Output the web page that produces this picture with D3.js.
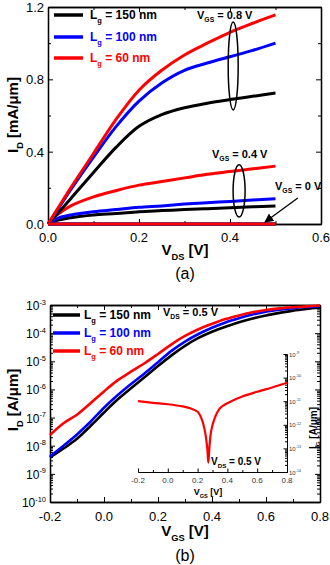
<!DOCTYPE html>
<html>
<head>
<meta charset="utf-8">
<script src="https://cdn.jsdelivr.net/npm/d3@7"></script>
<style>
  body { margin: 0; background: #fff; }
  text { font-family: "Liberation Sans", Arial, sans-serif; }
</style>
</head>
<body>
<svg id="chart" width="330" height="565"></svg>
<script>
// ---- panel (a): I_D vs V_DS ----
const vds = [0, 0.02, 0.05, 0.1, 0.15, 0.2, 0.25, 0.3, 0.35, 0.4, 0.45, 0.5];
const id150_08 = [0, 0.055, 0.14, 0.285, 0.425, 0.54, 0.605, 0.643, 0.668, 0.688, 0.706, 0.725];
const id100_08 = [0, 0.075, 0.19, 0.37, 0.54, 0.68, 0.78, 0.85, 0.89, 0.925, 0.96, 1.0];
const id60_08 = [0, 0.08, 0.2, 0.39, 0.58, 0.74, 0.85, 0.935, 1.0, 1.06, 1.11, 1.156];
const id150_04 = [0, 0.02, 0.035, 0.05, 0.058, 0.068, 0.074, 0.08, 0.085, 0.09, 0.095, 0.1];
const id100_04 = [0, 0.03, 0.05, 0.068, 0.08, 0.092, 0.1, 0.11, 0.118, 0.125, 0.133, 0.14];
const id60_04 = [0, 0.05, 0.1, 0.15, 0.185, 0.215, 0.235, 0.255, 0.275, 0.29, 0.305, 0.32];
const id_00 = [0, 0, 0, 0, 0, 0, 0, 0, 0, 0, 0, 0];
const xTicksA = [0, 0.2, 0.4, 0.6];
const yTicksA = [0, 0.4, 0.8, 1.2];

// ---- panel (b): log10 I_D vs V_GS ----
const vgs = [-0.2, -0.15, -0.1, -0.05, 0, 0.05, 0.1, 0.15, 0.2, 0.25, 0.3, 0.35, 0.4, 0.45, 0.5, 0.55, 0.6, 0.65, 0.7, 0.75, 0.8];
const logId150 = [-8.42, -8.1, -7.75, -7.3, -6.82, -6.36, -5.96, -5.57, -5.17, -4.79, -4.45, -4.17, -3.95, -3.77, -3.61, -3.48, -3.37, -3.28, -3.2, -3.14, -3.09];
const logId100 = [-8.38, -8.0, -7.6, -7.15, -6.65, -6.21, -5.81, -5.43, -5.03, -4.63, -4.3, -4.03, -3.81, -3.62, -3.47, -3.34, -3.24, -3.17, -3.11, -3.07, -3.04];
const logId60 = [-7.62, -7.2, -6.9, -6.49, -6.07, -5.68, -5.37, -5.07, -4.74, -4.4, -4.1, -3.86, -3.67, -3.5, -3.37, -3.26, -3.18, -3.12, -3.08, -3.05, -3.02];
const xTicksB = [-0.2, 0, 0.2, 0.4, 0.6, 0.8];
const yExpB = [-10, -9, -8, -7, -6, -5, -4, -3];

// ---- inset: log10 I_G vs V_GS ----
const vgsInset = [-0.2, -0.1, 0, 0.1, 0.15, 0.2, 0.23, 0.25, 0.265, 0.272, 0.28, 0.29, 0.31, 0.35, 0.42, 0.5, 0.6, 0.7, 0.8];
const logIg = [-11.0, -11.07, -11.13, -11.22, -11.3, -11.45, -11.8, -12.3, -13.0, -13.6, -12.9, -12.3, -11.8, -11.3, -11.02, -10.8, -10.6, -10.42, -10.22];
const yExpInset = [-14, -13, -12, -11, -10, -9];

const lengths = ["150", "100", "60"];
const colors = ["#000000", "#0000ff", "#ff0000"];

const svg = d3.select("#chart");

// text with sub/superscripts
function rich(g, x, y, parts, opt) {
    const t = g.append("text")
        .attr("x", x).attr("y", y)
        .attr("font-size", opt.size)
        .attr("font-weight", opt.bold ? "bold" : "normal")
        .attr("fill", opt.color || "#000")
        .attr("text-anchor", opt.anchor || "start");
    if (opt.rotate) t.attr("transform", "rotate(-90," + x + "," + y + ")");
    let shift = 0;
    parts.forEach(p => {
        const s = Array.isArray(p) ? p[0] : p;
        const kind = Array.isArray(p) ? p[1] : null;
        const target = kind === "sub" ? opt.size * 0.3 : kind === "sup" ? -opt.size * 0.45 : 0;
        t.append("tspan")
            .attr("dy", target - shift)
            .attr("font-size", kind ? opt.size * 0.62 : opt.size)
            .text(s);
        shift = target;
    });
    return t;
}

function styleAxis(g, w) {
    g.select(".domain").attr("stroke-width", w);
    g.selectAll(".tick line").attr("stroke-width", 1);
    return g;
}

// frame with inward ticks on all four sides
function frame(g, x, y, xMajor, xMinor, yMajor, yMinor) {
    const x0 = x.range()[0], x1 = x.range()[1];
    const y0 = y.range()[0], y1 = y.range()[1];
    [[d3.axisBottom, y0], [d3.axisTop, y1]].forEach(([ax, ty]) => {
        g.append("g").attr("transform", "translate(0," + ty + ")")
            .call(ax(x).tickValues(xMinor).tickSize(-3).tickSizeOuter(0).tickFormat(""))
            .call(a => styleAxis(a, 1.3));
        g.append("g").attr("transform", "translate(0," + ty + ")")
            .call(ax(x).tickValues(xMajor).tickSize(-5).tickSizeOuter(0).tickFormat(""))
            .call(a => styleAxis(a, 1.3));
    });
    [[d3.axisLeft, x0], [d3.axisRight, x1]].forEach(([ax, tx]) => {
        g.append("g").attr("transform", "translate(" + tx + ",0)")
            .call(ax(y).tickValues(yMinor).tickSize(-3).tickSizeOuter(0).tickFormat(""))
            .call(a => styleAxis(a, 1.3));
        g.append("g").attr("transform", "translate(" + tx + ",0)")
            .call(ax(y).tickValues(yMajor).tickSize(-5).tickSizeOuter(0).tickFormat(""))
            .call(a => styleAxis(a, 1.3));
    });
}

const smooth = d3.curveCatmullRom.alpha(0.5);

// ===================== panel (a) =====================
const gA = svg.append("g");
const xA = d3.scaleLinear().domain([0, 0.6]).range([48, 321]);
const yA = d3.scaleLinear().domain([0, 1.2]).range([224, 7]);

frame(gA, xA, yA, xTicksA, [0.1, 0.3, 0.5], yTicksA, [0.2, 0.6, 1.0]);

xTicksA.forEach(v => gA.append("text").attr("x", xA(v)).attr("y", yA(0) + 18)
    .attr("text-anchor", "middle").attr("font-size", 13).text(d3.format(".1f")(v)));
yTicksA.forEach(v => gA.append("text").attr("x", xA(0) - 4).attr("y", yA(v) + 5)
    .attr("text-anchor", "end").attr("font-size", 13).text(d3.format(".1f")(v)));

const lineA = d3.line().x(d => xA(d[0])).y(d => yA(d[1])).curve(smooth);
const seriesA = [
    [id150_04, 0], [id100_04, 1], [id60_04, 2],
    [id150_08, 0], [id100_08, 1], [id60_08, 2],
    [id_00, 0], [id_00, 1], [id_00, 2]
];
gA.selectAll("path.curve").data(seriesA).enter().append("path")
    .attr("class", "curve")
    .attr("d", s => lineA(vds.map((v, i) => [v, s[0][i]])))
    .attr("fill", "none")
    .attr("stroke", s => colors[s[1]])
    .attr("stroke-width", 3);

// legend (a)
const legY_A = [15, 37, 58];
lengths.forEach((L, i) => {
    gA.append("line").attr("x1", 54).attr("x2", 83).attr("y1", legY_A[i]).attr("y2", legY_A[i])
        .attr("stroke", colors[i]).attr("stroke-width", 3.5);
    rich(gA, 90, legY_A[i] + 4, ["L", ["g", "sub"], " = " + L + " nm"], { size: 12, bold: true, color: colors[i] });
});

// annotations (a)
const ellipsesA = [
    { v: 0.407, i: 0.874, rx: 5, ry: 0.243 },
    { v: 0.42, i: 0.183, rx: 6, ry: 0.144 }
];
ellipsesA.forEach(e => gA.append("ellipse")
    .attr("cx", xA(e.v)).attr("cy", yA(e.i))
    .attr("rx", e.rx).attr("ry", yA(0) - yA(e.ry))
    .attr("fill", "none").attr("stroke", "#000").attr("stroke-width", 1.5));
rich(gA, 197, 19, ["V", ["GS", "sub"], " = 0.8 V"], { size: 11, bold: true });
rich(gA, 212, 158, ["V", ["GS", "sub"], " = 0.4 V"], { size: 11, bold: true });
rich(gA, 275, 190, ["V", ["GS", "sub"], " = 0 V"], { size: 11, bold: true });

const arrowA = [[0.549, 0.144], [0.477, 0.011]];
svg.append("defs").append("marker")
    .attr("id", "ah").attr("viewBox", "0 0 10 10").attr("refX", 9).attr("refY", 5)
    .attr("markerWidth", 7).attr("markerHeight", 7).attr("orient", "auto")
    .append("path").attr("d", "M0,0 L10,5 L0,10 z").attr("fill", "#000");
gA.append("line")
    .attr("x1", xA(arrowA[0][0])).attr("y1", yA(arrowA[0][1]))
    .attr("x2", xA(arrowA[1][0])).attr("y2", yA(arrowA[1][1]))
    .attr("stroke", "#000").attr("stroke-width", 1.3).attr("marker-end", "url(#ah)");

rich(gA, 185, 255, ["V", ["DS", "sub"], " [V]"], { size: 15, bold: true, anchor: "middle" });
rich(gA, 18, 115, ["I", ["D", "sub"], " [mA/\u03bcm]"], { size: 15, bold: true, anchor: "middle", rotate: true });
gA.append("text").attr("x", 185).attr("y", 279).attr("text-anchor", "middle").attr("font-size", 16).text("(a)");

// ===================== panel (b) =====================
const gB = svg.append("g");
const xB = d3.scaleLinear().domain([-0.2, 0.8]).range([50, 320]);
const yB = d3.scaleLog().domain([1e-10, 1e-3]).range([502, 305]);

const minorLog = [];
for (let e = -10; e < -3; e++) for (let m = 2; m <= 9; m++) minorLog.push(m * Math.pow(10, e));
frame(gB, xB, yB, xTicksB, [-0.1, 0.1, 0.3, 0.5, 0.7], yExpB.map(e => Math.pow(10, e)), minorLog);

xTicksB.forEach(v => gB.append("text").attr("x", xB(v)).attr("y", yB(1e-10) + 19)
    .attr("text-anchor", "middle").attr("font-size", 13).text(d3.format(".1f")(v).replace("\u2212", "-")));
yExpB.forEach(e => rich(gB, xB(-0.2) - 4, yB(Math.pow(10, e)) + 5, ["10", [String(e), "sup"]],
    { size: 12, anchor: "end" }));

const lineB = d3.line().x(d => xB(d[0])).y(d => yB(Math.pow(10, d[1]))).curve(smooth);
[logId150, logId100, logId60].forEach((s, k) => gB.append("path")
    .attr("d", lineB(vgs.map((v, i) => [v, s[i]])))
    .attr("fill", "none").attr("stroke", colors[k]).attr("stroke-width", 2.6));

// legend (b)
const legY_B = [315, 333, 351];
lengths.forEach((L, i) => {
    gB.append("line").attr("x1", 53).attr("x2", 80).attr("y1", legY_B[i]).attr("y2", legY_B[i])
        .attr("stroke", colors[i]).attr("stroke-width", 3.5);
    rich(gB, 84, legY_B[i] + 4, ["L", ["g", "sub"], " = " + L + " nm"], { size: 12, bold: true, color: colors[i] });
});
rich(gB, 163, 316, ["V", ["DS", "sub"], " = 0.5 V"], { size: 11, bold: true });

rich(gB, 185, 536, ["V", ["GS", "sub"], " [V]"], { size: 15, bold: true, anchor: "middle" });
rich(gB, 18, 400, ["I", ["D", "sub"], " [A/\u03bcm]"], { size: 15, bold: true, anchor: "middle", rotate: true });
gB.append("text").attr("x", 185).attr("y", 561).attr("text-anchor", "middle").attr("font-size", 16).text("(b)");

// ---- inset ----
const gI = svg.append("g");
const xI = d3.scaleLinear().domain([-0.2, 0.8]).range([138, 287]);
const yI = d3.scaleLog().domain([1e-14, 1e-9]).range([472, 354]);
const minorInset = [];
for (let e = -14; e < -9; e++) for (let m = 2; m <= 9; m++) minorInset.push(m * Math.pow(10, e));

gI.append("g").attr("transform", "translate(0," + yI.range()[0] + ")")
    .call(d3.axisBottom(xI).tickValues([-0.1, 0.1, 0.3, 0.5, 0.7]).tickSize(-2).tickSizeOuter(0).tickFormat(""))
    .call(a => styleAxis(a, 1));
gI.append("g").attr("transform", "translate(0," + yI.range()[0] + ")")
    .call(d3.axisBottom(xI).tickValues(xTicksB).tickSize(-3.5).tickSizeOuter(0).tickFormat(""))
    .call(a => styleAxis(a, 1));
gI.append("g").attr("transform", "translate(" + xI.range()[1] + ",0)")
    .call(d3.axisRight(yI).tickValues(minorInset).tickSize(-2).tickSizeOuter(0).tickFormat(""))
    .call(a => styleAxis(a, 1));
gI.append("g").attr("transform", "translate(" + xI.range()[1] + ",0)")
    .call(d3.axisRight(yI).tickValues(yExpInset.map(e => Math.pow(10, e))).tickSize(-3.5).tickSizeOuter(0).tickFormat(""))
    .call(a => styleAxis(a, 1));

xTicksB.forEach(v => gI.append("text").attr("x", xI(v)).attr("y", yI(1e-14) + 11)
    .attr("text-anchor", "middle").attr("font-size", 8).attr("fill", "#333")
    .text(d3.format(".1f")(v).replace("\u2212", "-")));
yExpInset.forEach(e => rich(gI, xI(0.8) + 2, yI(Math.pow(10, e)) + 2.5, ["10", [String(e), "sup"]],
    { size: 6, color: "#333" }));

const lineI = d3.line().x(d => xI(d[0])).y(d => yI(Math.pow(10, d[1]))).curve(smooth);
gI.append("path")
    .attr("d", lineI(vgsInset.map((v, i) => [v, logIg[i]])))
    .attr("fill", "none").attr("stroke", "#ff0000").attr("stroke-width", 2.2);

rich(gI, 211, 465, ["V", ["DS", "sub"], " = 0.5 V"], { size: 10, bold: true });
rich(gI, 208, 495, ["V", ["GS", "sub"], " [V]"], { size: 9, bold: true, anchor: "middle" });
rich(gI, 317, 428, ["I", ["G", "sub"], " [A/\u03bcm]"], { size: 10, bold: true, anchor: "middle", rotate: true });
</script>
</body>
</html>
